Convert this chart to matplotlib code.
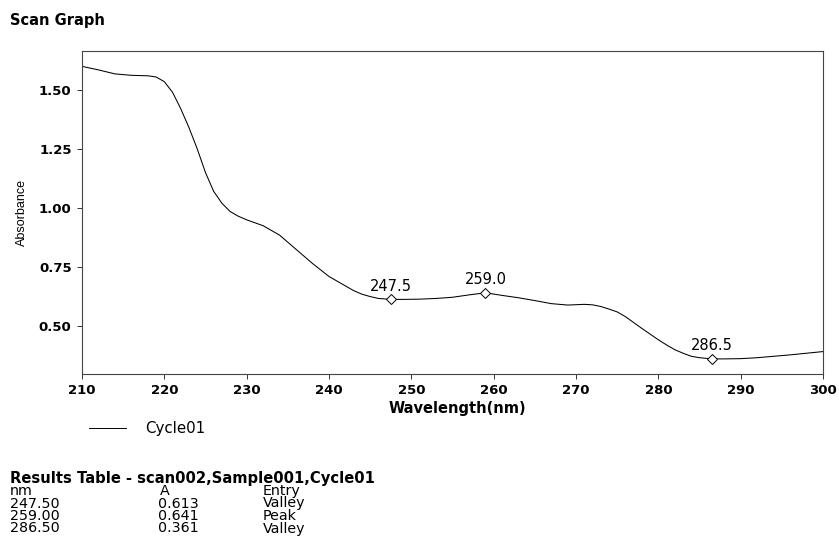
import matplotlib
matplotlib.use("Agg")
import matplotlib.pyplot as plt

plt.rcParams["font.family"] = ["DejaVu Sans"]

# scan data
wavelength = [210, 212, 214, 216, 218, 219, 220, 221, 222, 223, 224, 225, 226,
              227, 228, 229, 230, 232, 234, 235, 236, 238, 240, 241, 242, 243,
              244, 245, 246, 247.5, 249, 251, 253, 255, 257, 259, 261, 263,
              265, 267, 269, 271, 272, 273, 274, 275, 276, 277, 278, 279, 280,
              281, 282, 283, 284, 285, 286.5, 288, 290, 292, 294, 296, 298, 300]
absorbance = [1.600, 1.585, 1.568, 1.562, 1.560, 1.555, 1.535, 1.49, 1.42, 1.34,
              1.25, 1.15, 1.07, 1.02, 0.985, 0.965, 0.950, 0.925, 0.885, 0.855,
              0.825, 0.765, 0.71, 0.69, 0.67, 0.65, 0.635, 0.625, 0.617, 0.613,
              0.613, 0.614, 0.617, 0.622, 0.632, 0.641, 0.630, 0.620, 0.608,
              0.595, 0.589, 0.592, 0.590, 0.583, 0.572, 0.560, 0.540, 0.515,
              0.490, 0.466, 0.442, 0.420, 0.400, 0.385, 0.372, 0.366, 0.361,
              0.361, 0.362, 0.366, 0.372, 0.378, 0.385, 0.392]

# peaks / valleys
pick_nm = [247.5, 259.0, 286.5]
pick_a = [0.613, 0.641, 0.361]
pick_entry = ["Valley", "Peak", "Valley"]

xticks = [210, 220, 230, 240, 250, 260, 270, 280, 290, 300]
yticks = [0.50, 0.75, 1.00, 1.25, 1.50]

W, H = 839, 548

fig = plt.figure(figsize=(W / 100, H / 100), dpi=100)
ax = fig.add_axes([82 / W, 1 - 374 / H, 741 / W, 323 / H])

ax.plot(wavelength, absorbance, color="black", lw=0.75, label="Cycle01")
ax.plot(pick_nm, pick_a, linestyle="none", marker="D", markersize=5,
        markerfacecolor="white", markeredgecolor="black", markeredgewidth=0.7)
for x, y in zip(pick_nm, pick_a):
    ax.annotate("%.1f" % x, (x, y), xytext=(0, 4), textcoords="offset points",
                ha="center", va="bottom", fontsize=10.5)

ax.set_xlim(210, 300)
ax.set_ylim(0.297, 1.665)
ax.set_xticks(xticks)
ax.set_xticklabels([str(t) for t in xticks], fontweight="bold", fontsize=9.5)
ax.set_yticks(yticks)
ax.set_yticklabels(["%.2f" % t for t in yticks], fontweight="bold", fontsize=9.5)
ax.tick_params(axis="both", direction="out", length=3.5, width=0.7, color="#333")
ax.tick_params(axis="x", pad=4)
ax.tick_params(axis="y", pad=4)

for s in ax.spines.values():
    s.set_color("#444444")
    s.set_linewidth(0.8)

ax.set_xlabel("Wavelength(nm)", fontsize=10.5, fontweight="bold", labelpad=1)
ax.xaxis.set_label_coords(0.507, -0.085)
ax.set_ylabel("Absorbance", fontsize=9, labelpad=8,
              family=["Liberation Sans Narrow", "Liberation Sans", "DejaVu Sans"])

fig.text(10 / W, 1 - 20 / H, "Scan Graph", fontsize=10.5, fontweight="bold",
         va="center")

# legend line
fig.add_artist(plt.Line2D([89 / W, 126 / W], [1 - 428 / H] * 2,
                          color="black", lw=0.7))
fig.text(145 / W, 1 - 428 / H, "Cycle01", fontsize=10.8, va="center")

# results table
fig.text(10 / W, 1 - 478 / H, "Results Table - scan002,Sample001,Cycle01",
         fontsize=10.6, fontweight="bold", va="center")
col_x = [10, 158, 263]
row_y = 491
fs = 10.3
fig.text(col_x[0] / W, 1 - row_y / H, "nm", fontsize=fs, va="center")
fig.text((col_x[1] + 2) / W, 1 - row_y / H, "A", fontsize=fs, va="center")
fig.text(col_x[2] / W, 1 - row_y / H, "Entry", fontsize=fs, va="center")
for i, (nm, a, e) in enumerate(zip(pick_nm, pick_a, pick_entry)):
    y = 1 - (row_y + 12.5 * (i + 1)) / H
    fig.text(col_x[0] / W, y, "%.2f" % nm, fontsize=fs, va="center")
    fig.text(col_x[1] / W, y, "%.3f" % a, fontsize=fs, va="center")
    fig.text(col_x[2] / W, y, e, fontsize=fs, va="center")

fig.savefig("out.png", dpi=100)
